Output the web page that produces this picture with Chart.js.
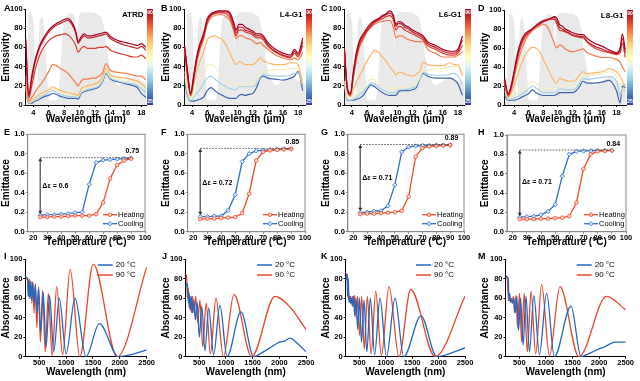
<!DOCTYPE html>
<html><head><meta charset="utf-8">
<script src="https://cdn.jsdelivr.net/npm/chart.js@4.4.1/dist/chart.umd.min.js"></script>
<style>
html,body{margin:0;padding:0;background:#fff;}
#wrap{position:relative;width:640px;height:381px;overflow:hidden;background:#fff;}
canvas{position:absolute;}
.lbl{position:absolute;font:bold 9px "Liberation Sans",Arial,sans-serif;color:#000;line-height:9px;}
</style></head><body><div id="wrap"></div>
<script>
// ================= DATA =================
// Row 1: emissivity spectra (%), wavelength in µm
const wl  = [3,3.4,3.8,4.2,4.6,5,5.5,6,6.5,7,7.5,8,8.5,9,9.5,9.8,10.2,10.6,11,11.5,12,12.5,13,13.4,14,15,16,17,17.5,18,18.6];
const wlD = [2.7,3.2,3.6,4,4.5,5,5.5,6,6.5,7,7.5,8,8.5,9,9.5,9.8,10.2,10.6,11,11.5,12,12.5,13,13.4,14,15,16,17,18,18.5,18.8,19.2];
const atmWl = [2.6,3.0,3.2,3.3,3.6,3.9,4.1,4.2,4.45,4.6,4.8,5.0,5.3,5.5,5.8,6.0,7.2,7.5,7.8,8.0,8.5,9.0,9.4,9.6,9.8,10.0,11.0,12.0,12.8,13.2,13.6,14.0,14.5,15.0,16.0,17.0,18.0,19.5];
const atmT  = [20,30,60,95,98,92,80,20,0,50,85,92,90,70,30,5,5,35,75,90,95,96,92,60,85,96,97,96,92,80,55,35,25,20,25,30,25,20];
const cbTicks = ['90','25'];

const A_90 = [70,10,30,46,57,65,72,78,82,85,87,89,90,86,77,66,71,74,72,72,73,74,75,76,71,67,65,63,62,64,60];
const A_85 = [68,9,27,43,55,63,70,76,80,83,85,87,88,84,75,64,69,72,70,70,71,72,73,74,69,65,62,60,59,61,57];
const A_80 = [66,7,20,35,47,55,62,67,70,72,73,74,73,69,62,55,59,61,59,59,59,60,60,61,57,54,52,50,50,52,48];
const A_75 = [30,4,8,13,18,22,28,35,42,41,38,36,33,28,23,20,25,27,27,28,28,30,34,43,36,34,33,31,30,30,26];
const A_70 = [22,3,5,7,10,12,14,16,19,17,15,14,13,12,11,10,17,19,20,21,22,24,30,38,31,29,28,26,25,22,18];
const A_60 = [20,3,4,6,9,11,13,15,17,15,13,12,11,10,10,9,15,17,18,19,20,22,28,36,29,27,25,24,22,20,16];
const A_45 = [18,2,3,5,7,9,11,13,15,13,11,10,9,9,8,8,13,15,16,17,18,20,26,34,28,25,23,22,20,17,13];
const A_25 = [16,2,2,4,5,7,9,10,12,11,9,8,7,7,7,6,12,14,15,16,17,19,25,33,27,24,22,20,18,12,8];

const B_90 = [62,35,12,30,50,63,74,90,95,97,98,98,98,96,86,78,84,84,81,79,77,74,74,72,65,58,54,52,58,54,70];
const B_85 = [61,33,11,28,48,61,72,88,94,96,97,97,97,94,83,75,81,81,78,77,75,72,72,70,63,56,52,50,56,52,66];
const B_80 = [60,32,10,26,46,59,70,86,93,95,96,96,95,91,80,72,78,78,76,75,73,70,70,68,61,55,51,49,54,50,62];
const B_75 = [58,30,10,24,44,57,68,84,91,93,94,94,92,88,77,69,72,72,70,69,67,64,65,62,58,52,49,47,49,47,55];
const B_70 = [55,25,9,20,35,45,55,68,71,72,70,68,62,54,45,42,45,44,42,42,42,45,49,46,44,42,42,44,44,42,20];
const B_60 = [35,15,6,10,17,22,30,42,42,40,35,30,26,23,22,21,21,21,21,22,23,26,32,35,36,37,37,38,38,37,25];
const B_45 = [30,12,5,8,12,16,22,28,30,27,24,21,19,17,16,16,19,19,19,19,19,22,29,32,31,30,30,31,33,33,20];
const B_25 = [25,10,4,4,5,6,8,15,18,15,12,10,8,7,7,7,10,11,10,11,12,18,28,30,28,27,26,28,30,35,15];

const C_90 = [60,18,12,35,55,67,74,80,85,88,90,93,95,98,93,84,87,86,83,81,78,76,74,72,66,62,58,56,56,58,72];
const C_85 = [59,17,11,33,53,65,72,78,83,87,89,92,94,96,91,82,85,84,81,79,76,74,72,70,64,60,56,54,54,56,68];
const C_80 = [58,16,10,30,50,62,70,77,82,86,88,90,92,93,88,78,82,81,78,76,74,72,70,68,62,58,54,52,52,54,62];
const C_75 = [57,15,10,28,47,60,68,76,81,84,86,87,88,88,80,70,72,72,70,68,67,66,66,66,58,54,50,50,50,52,55];
const C_70 = [56,14,9,16,24,30,38,46,52,57,55,50,46,40,35,31,34,34,32,31,30,32,36,45,42,41,41,44,42,42,30];
const C_60 = [25,7,6,8,11,14,18,24,27,26,23,21,19,18,17,17,19,19,19,19,20,22,30,37,36,38,38,40,40,40,30];
const C_45 = [22,6,5,6,8,11,14,19,23,22,19,16,14,13,13,13,16,16,16,17,18,20,28,34,32,31,31,32,33,30,22];
const C_25 = [20,5,5,5,6,7,10,16,21,19,16,13,11,10,10,10,14,15,15,15,16,18,28,33,30,28,28,28,26,22,10];

const D_90 = [28,12,20,35,55,68,75,78,80,83,85,88,89,91,93,92,85,83,80,78,76,75,74,74,70,65,62,58,55,60,75,58];
const D_85 = [27,11,19,33,53,66,73,77,80,83,86,88,90,91,92,89,82,80,78,76,74,73,72,72,67,62,59,56,54,58,70,55];
const D_80 = [26,10,18,32,50,63,71,76,80,84,87,89,90,90,90,86,79,78,77,75,73,72,71,71,66,60,57,55,53,55,65,50];
const D_75 = [25,9,15,28,45,58,67,74,78,81,83,85,83,75,65,60,63,62,59,57,56,57,58,59,55,52,50,50,48,45,40,35];
const D_70 = [24,8,12,20,32,43,52,58,61,60,56,48,40,32,25,23,28,27,26,25,25,27,32,35,33,34,35,38,35,30,25,20];
const D_60 = [20,7,8,10,13,16,19,22,25,23,20,18,17,17,17,18,21,21,20,20,20,22,28,32,31,32,33,35,30,20,15,12];
const D_45 = [15,6,6,7,9,11,14,17,20,18,15,13,13,13,13,14,17,17,16,16,16,18,24,28,27,28,29,30,25,10,15,15];
const D_25 = [10,5,5,5,6,8,10,12,16,13,11,10,10,10,10,11,13,13,13,13,13,15,20,25,23,23,24,26,15,2,20,18];

// Row 2: emittance vs temperature
const tempC  = [25,30,35,40,45,50,55,60,65,70,75,80,85,90];
const E_heat = [0.15,0.15,0.155,0.155,0.16,0.165,0.165,0.165,0.18,0.30,0.545,0.685,0.73,0.75];
const E_cool = [0.17,0.175,0.175,0.18,0.185,0.195,0.20,0.485,0.71,0.735,0.74,0.745,0.75,0.755];
const F_heat = [0.13,0.135,0.135,0.14,0.145,0.15,0.19,0.39,0.73,0.82,0.835,0.84,0.845,0.85];
const F_cool = [0.155,0.155,0.16,0.16,0.22,0.38,0.72,0.80,0.83,0.835,0.84,0.845,0.85,0.85];
const G_heat = [0.18,0.185,0.185,0.19,0.195,0.20,0.215,0.36,0.77,0.86,0.875,0.88,0.885,0.89];
const G_cool = [0.195,0.20,0.21,0.215,0.265,0.48,0.82,0.87,0.88,0.885,0.885,0.89,0.89,0.89];
const H_heat = [0.13,0.13,0.13,0.135,0.135,0.14,0.145,0.16,0.30,0.65,0.80,0.83,0.835,0.84];
const H_cool = [0.15,0.155,0.16,0.175,0.21,0.28,0.575,0.80,0.83,0.835,0.835,0.84,0.84,0.84];
const deltaTop    = [0.76, 0.855, 0.895, 0.845];
const deltaBottom = [0.18, 0.17, 0.21, 0.16];
const deltaText   = ['Δε = 0.6','Δε = 0.72','Δε = 0.71','Δε = 0.71'];
const deltaTextY  = [0.47, 0.50, 0.55, 0.51];
const maxText     = ['0.75','0.85','0.89','0.84'];

// Row 3: absorptance spectra [nm, %]
const I_20 = [[240,82],[282,80],[294,62],[308,78],[323,60],[340,77],[357,58],[378,76],[400,55],[426,73],[455,45],[489,70],[526,25],[573,66],[627,10],[692,63],[770,5],[873,60],[1000,3],[1164,60],[1370,0],[1618,34],[1975,0],[2200,2],[2500,7]];
const I_90 = [[240,80],[288,80],[300,62],[314,80],[328,60],[344,78],[362,55],[381,77],[403,45],[427,75],[455,30],[486,72],[521,15],[563,68],[611,5],[669,65],[740,1],[825,72],[934,2],[1075,90],[1255,0],[1505,95],[1950,0],[2500,92]];
const J_20 = [[240,72],[281,75],[295,55],[311,65],[329,48],[349,62],[372,45],[397,58],[426,38],[460,56],[500,20],[547,52],[606,6],[677,50],[769,2],[887,53],[1020,0],[1281,46],[1520,0],[1700,5],[1850,10],[2000,15],[2100,16],[2200,19],[2350,13],[2500,5]];
const J_90 = [[240,85],[262,82],[280,60],[295,70],[311,50],[330,62],[351,45],[374,62],[402,45],[432,62],[469,35],[512,58],[565,10],[628,55],[709,3],[812,60],[952,0],[1150,64],[1481,0],[1919,62],[2200,51],[2500,28]];
const K_20 = [[240,78],[268,85],[280,62],[291,80],[303,56],[317,62],[333,55],[349,60],[368,52],[389,62],[412,42],[438,60],[468,28],[502,60],[541,15],[588,58],[642,5],[708,60],[789,2],[891,60],[1014,0],[1175,60],[1340,0],[1667,42],[1964,0],[2200,3],[2500,9]];
const K_90 = [[240,86],[260,80],[275,85],[287,60],[300,65],[314,56],[329,62],[347,55],[366,62],[387,52],[411,63],[438,40],[468,62],[504,22],[545,62],[593,8],[651,62],[722,3],[810,67],[917,1],[1062,72],[1250,0],[1472,69],[1935,0],[2500,62]];
const M_20 = [[240,83],[291,80],[304,58],[319,65],[336,56],[353,58],[374,55],[397,60],[422,45],[452,62],[485,27],[524,60],[571,12],[625,62],[690,5],[773,63],[877,2],[1014,65],[1158,0],[1472,52],[1660,0],[1800,3],[2000,8],[2100,10],[2300,15],[2500,15]];
const M_90 = [[240,80],[270,82],[299,57],[313,62],[329,57],[346,60],[365,55],[386,62],[410,45],[437,63],[467,30],[503,65],[543,15],[592,65],[650,5],[720,67],[807,3],[920,74],[1066,1],[1265,72],[1620,0],[2140,62],[2500,48]];

// tick labels
const specXTicks = [4,6,8,10,12,14,16,18];
const pctTicks   = [0,20,40,60,80,100];
const tempTicks  = [20,30,40,50,60,70,80,90,100];
const emitTicks  = [0,0.2,0.4,0.6,0.8,1.0];
const nmTicks    = [500,1000,1500,2000,2500];

// ================= STYLE / HELPERS =================
const FONT = '"Liberation Sans", Arial, sans-serif';
Chart.defaults.font.family = FONT;
Chart.defaults.color = '#000';
const cmapStops = [[0,'#a50026'],[0.1,'#d73027'],[0.2,'#f46d43'],[0.3,'#fdae61'],[0.4,'#fee090'],[0.5,'#ffffbf'],[0.6,'#e0f3f8'],[0.7,'#abd9e9'],[0.8,'#74add1'],[0.9,'#4575b4'],[1,'#313695']];
const curvePalette = ['#a50026','#c0202b','#dd3d2d','#f47a4c','#fdb566','#f3eebe','#a6d1e6','#3b66ae'];
const HEAT = '#ee4b2b', COOL = '#2e6fc7';
const BLUE = '#2468c0', RED = '#e8472a';
const wrap = document.getElementById('wrap');

function addLetter(ch, x, y){
  const d = document.createElement('div'); d.className='lbl'; d.textContent=ch;
  d.style.left = x+'px'; d.style.top = (y-4.5)+'px'; wrap.appendChild(d);
}
function xy(xs, ys){ return xs.map((x,i)=>({x, y:ys[i]})); }
function pairs(p){ return p.map(([x,y])=>({x, y})); }

function panel(o){
  const [l,t,w,h] = o.rect, [x0,y0,x1,y1] = o.plot, padL = o.padLeft||0;
  const c = document.createElement('canvas'); c.width=w; c.height=h;
  Object.assign(c.style,{left:l+'px',top:t+'px',width:w+'px',height:h+'px'});
  wrap.appendChild(c);
  const ax = o.frame ? '#8a8a8a' : '#000';
  const mk = (s, isX) => ({
    type:'linear', min:s.min, max:s.max,
    afterFit: sc => { if (isX) sc.height = t+h-y1; else sc.width = x0-l-padL; },
    afterBuildTicks: sc => { sc.ticks = s.ticks.map(v=>({value:v})); },
    grid:{display:true, drawOnChartArea:false, drawTicks:true, tickLength:2, color:ax, lineWidth:1},
    border:{display:true, color:ax, width:1},
    ticks:{autoSkip:false, maxRotation:0, includeBounds:false, padding:s.tpad, font:{size:7.5, weight:'bold'}, color:'#000', callback: s.fmt || (v=>String(v))},
    title:{display:true, text:s.title, color:'#000', font:{size:10, weight:'bold'}, padding:{top:0, bottom:s.titlePad||0}}
  });
  return new Chart(c, {
    type:'scatter',
    data:{datasets:o.datasets},
    options:{responsive:false, maintainAspectRatio:false, devicePixelRatio:1, animation:false, events:[],
      layout:{padding:{left:padL, top:y0-t, right:l+w-x1, bottom:0}},
      plugins:{legend:{display:false}, tooltip:{enabled:false}},
      scales:{x:mk(o.x,true), y:mk(o.y,false)}},
    plugins:o.plugins||[]
  });
}

// ================= ROW 1 =================
const specPanels = [
  {letter:'A', lx:4,   name:'ATRD',  rect:[0,0,160,125],   plot:[25.6,9,146,105],   xr:[3,18.6],  grid:wl,  curves:[A_90,A_85,A_80,A_75,A_70,A_60,A_45,A_25]},
  {letter:'B', lx:161, name:'L4-G1', rect:[160,0,160,125], plot:[184.5,9,305,105],  xr:[3,18.9],  grid:wl,  curves:[B_90,B_85,B_80,B_75,B_70,B_60,B_45,B_25]},
  {letter:'C', lx:321, name:'L6-G1', rect:[320,0,155,125], plot:[344.3,9,464,105],  xr:[3,18.8],  grid:wl,  curves:[C_90,C_85,C_80,C_75,C_70,C_60,C_45,C_25]},
  {letter:'D', lx:478, name:'L8-G1', rect:[475,0,165,125], plot:[504.5,10,626,105], xr:[2.7,19.3],grid:wlD, curves:[D_90,D_85,D_80,D_75,D_70,D_60,D_45,D_25], padLeft:4},
];
specPanels.forEach(p=>{
  const ds = p.curves.map((c,i)=>({data:xy(p.grid,c), showLine:true, borderColor:curvePalette[i], borderWidth:1.2, pointRadius:0, cubicInterpolationMode:'monotone', order:0}));
  ds.push({data:xy(atmWl,atmT), showLine:true, borderWidth:0, borderColor:'rgba(0,0,0,0)', backgroundColor:'rgba(200,200,200,0.4)', fill:'origin', pointRadius:0, order:10});
  const cb = {id:'cb'+p.letter, afterDraw(chart){
    const {ctx, chartArea:a} = chart;
    const g = ctx.createLinearGradient(0,a.top,0,a.bottom);
    cmapStops.forEach(([s,c])=>g.addColorStop(s,c));
    ctx.save();
    ctx.fillStyle = g; ctx.fillRect(a.right+1, a.top, 6, a.bottom-a.top);
    ctx.fillStyle = '#fff'; ctx.font = 'bold 5px '+FONT; ctx.textAlign='center';
    ctx.textBaseline='top'; ctx.fillText(cbTicks[0], a.right+4, a.top+1);
    ctx.textBaseline='bottom'; ctx.fillText(cbTicks[1], a.right+4, a.bottom-0.5);
    ctx.fillStyle = '#000'; ctx.font = 'bold 8px '+FONT; ctx.textAlign='right'; ctx.textBaseline='middle';
    ctx.fillText(p.name, a.right-2.5, a.top+5.5);
    ctx.restore();
  }};
  panel({rect:p.rect, plot:p.plot, padLeft:p.padLeft, datasets:ds, plugins:[cb],
    x:{min:p.xr[0], max:p.xr[1], ticks:specXTicks, title:'Wavelength (μm)', tpad:1, titlePad:0},
    y:{min:0, max:100, ticks:pctTicks, title:'Emissivity', tpad:1}});
  addLetter(p.letter, p.lx, 8);
});

// ================= ROW 2 =================
const hystPanels = [
  {letter:'E', lx:4,   rect:[0,125,160,125],   plot:[27.7,134.3,145,231.7], heat:E_heat, cool:E_cool},
  {letter:'F', lx:161, rect:[160,125,160,125], plot:[187.7,134.3,305,231.7], heat:F_heat, cool:F_cool},
  {letter:'G', lx:321, rect:[320,125,155,125], plot:[347.8,134.3,464,231.7], heat:G_heat, cool:G_cool},
  {letter:'H', lx:478, rect:[475,125,165,125], plot:[507,135,626,231.7],     heat:H_heat, cool:H_cool, padLeft:4},
];
function drawMarker(ctx, style, x, y, r, fill, stroke){
  ctx.beginPath();
  if (style==='circle') ctx.arc(x,y,r,0,Math.PI*2);
  else { ctx.moveTo(x,y-r); ctx.lineTo(x+r,y); ctx.lineTo(x,y+r); ctx.lineTo(x-r,y); ctx.closePath(); }
  ctx.fillStyle=fill; ctx.fill(); ctx.lineWidth=0.8; ctx.strokeStyle=stroke; ctx.stroke();
}
hystPanels.forEach((p,k)=>{
  const ds = [
    {data:xy(tempC,p.heat), showLine:true, borderColor:HEAT, borderWidth:1.3, pointStyle:'circle', pointRadius:1.8, pointBorderWidth:0.8, pointBorderColor:HEAT, pointBackgroundColor:'#fbd3c6'},
    {data:xy(tempC,p.cool), showLine:true, borderColor:COOL, borderWidth:1.3, pointStyle:'rectRot', pointRadius:2.2, pointBorderWidth:0.8, pointBorderColor:COOL, pointBackgroundColor:'#d3e3f7'},
  ];
  const ann = {id:'hy'+p.letter, afterDatasetsDraw(chart){
    const {ctx, chartArea:a, scales:{x,y}} = chart;
    const xl = x.getPixelForValue(tempC[0]), xr = x.getPixelForValue(tempC[tempC.length-1]);
    const yt = y.getPixelForValue(deltaTop[k]), yb = y.getPixelForValue(deltaBottom[k]);
    ctx.save();
    ctx.strokeStyle='#444'; ctx.lineWidth=0.9; ctx.setLineDash([1.5,1.5]);
    ctx.beginPath(); ctx.moveTo(xl,yt); ctx.lineTo(xr,yt); ctx.stroke();
    ctx.setLineDash([]); ctx.strokeStyle='#6a6a6a'; ctx.lineWidth=1.5;
    ctx.beginPath(); ctx.moveTo(xl,yt+2); ctx.lineTo(xl,yb-2); ctx.stroke();
    ctx.fillStyle='#333';
    ctx.beginPath(); ctx.moveTo(xl,yt); ctx.lineTo(xl-2,yt+3.5); ctx.lineTo(xl+2,yt+3.5); ctx.closePath(); ctx.fill();
    ctx.beginPath(); ctx.moveTo(xl,yb); ctx.lineTo(xl-2,yb-3.5); ctx.lineTo(xl+2,yb-3.5); ctx.closePath(); ctx.fill();
    ctx.fillStyle='#000'; ctx.font='bold 7px '+FONT; ctx.textBaseline='middle'; ctx.textAlign='left';
    ctx.fillText(deltaText[k], x.getPixelForValue(26.5), y.getPixelForValue(deltaTextY[k]));
    ctx.textAlign='center';
    ctx.fillText(maxText[k], x.getPixelForValue(91), y.getPixelForValue(deltaTop[k]+0.065));
    ctx.strokeStyle='#8a8a8a'; ctx.lineWidth=1;
    ctx.strokeRect(a.left, a.top, a.right-a.left, a.bottom-a.top);
    const items = [['Heating',HEAT,'circle','#fbd3c6',17],['Cooling',COOL,'diamond','#d3e3f7',8]];
    ctx.font='7.5px '+FONT; ctx.textAlign='left';
    items.forEach(([txt,col,st,fill,dy])=>{
      const yy = a.bottom-dy;
      ctx.strokeStyle=col; ctx.lineWidth=1.3;
      ctx.beginPath(); ctx.moveTo(a.right-42,yy); ctx.lineTo(a.right-28,yy); ctx.stroke();
      drawMarker(ctx, st, a.right-35, yy, st==='circle'?1.8:2.2, fill, col);
      ctx.fillStyle='#000'; ctx.fillText(txt, a.right-27, yy);
    });
    ctx.restore();
  }};
  panel({rect:p.rect, plot:p.plot, padLeft:p.padLeft, frame:true, datasets:ds, plugins:[ann],
    x:{min:16, max:100, ticks:tempTicks, title:'Temperature (°C)', tpad:0, titlePad:1.7},
    y:{min:0, max:1, ticks:emitTicks, title:'Emittance', tpad:1, fmt:v=>v.toFixed(1)}});
  addLetter(p.letter, p.lx, 132);
});

// ================= ROW 3 =================
const absPanels = [
  {letter:'I', lx:4,   rect:[0,250,160,131],   plot:[25.3,259.3,146.7,356.7], b:I_20, r:I_90},
  {letter:'J', lx:162, rect:[160,250,160,131], plot:[185.4,259.3,306,356.7],  b:J_20, r:J_90},
  {letter:'K', lx:321, rect:[320,250,155,131], plot:[345.6,259.3,465,356.7],  b:K_20, r:K_90},
  {letter:'M', lx:478, rect:[475,250,165,131], plot:[505.5,259.3,625.7,356.7],b:M_20, r:M_90, padLeft:4},
];
absPanels.forEach(p=>{
  const ds = [
    {data:pairs(p.b), showLine:true, borderColor:BLUE, borderWidth:1.3, pointRadius:0, cubicInterpolationMode:'monotone'},
    {data:pairs(p.r), showLine:true, borderColor:RED, borderWidth:1.3, pointRadius:0, cubicInterpolationMode:'monotone'},
  ];
  const leg = {id:'lg'+p.letter, afterDraw(chart){
    const {ctx, chartArea:a} = chart;
    ctx.save(); ctx.font='8px '+FONT; ctx.textAlign='left'; ctx.textBaseline='middle';
    [['20 °C',BLUE,5.7],['90 °C',RED,15.7]].forEach(([txt,col,dy])=>{
      const yy=a.top+dy;
      ctx.strokeStyle=col; ctx.lineWidth=1.5;
      ctx.beginPath(); ctx.moveTo(a.right-49,yy); ctx.lineTo(a.right-34,yy); ctx.stroke();
      ctx.fillStyle='#000'; ctx.fillText(txt, a.right-31, yy);
    });
    ctx.restore();
  }};
  panel({rect:p.rect, plot:p.plot, padLeft:p.padLeft, datasets:ds, plugins:[leg],
    x:{min:240, max:2500, ticks:nmTicks, title:'Wavelength (nm)', tpad:0, titlePad:2.7},
    y:{min:0, max:100, ticks:pctTicks, title:'Absorptance', tpad:1}});
  addLetter(p.letter, p.lx, 256);
});
</script></body></html>
